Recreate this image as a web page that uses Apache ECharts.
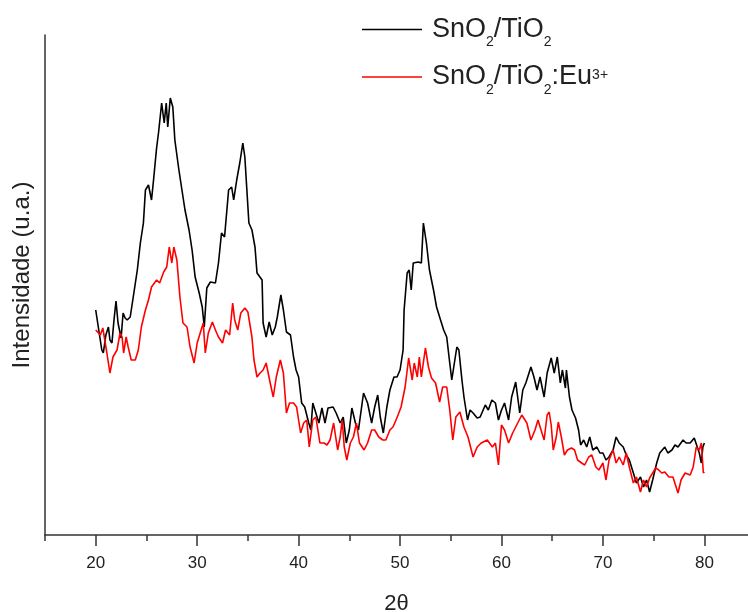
<!DOCTYPE html>
<html>
<head>
<meta charset="utf-8">
<script src="https://cdn.jsdelivr.net/npm/echarts@6/dist/echarts.min.js"></script>
<style>
html, body { margin: 0; padding: 0; background: #fff; }
#chart { width: 748px; height: 612px; }
</style>
</head>
<body>
<div id="chart"></div>
<script>
// 2theta positions (deg) and intensity (arb. units)
var blackX = [20.0,20.15,20.6,20.75,21.0,21.25,21.4,21.6,21.8,22.0,22.2,22.5,22.7,22.9,23.1,23.4,23.7,24.1,24.4,24.7,24.9,25.2,25.5,25.7,26.0,26.2,26.5,26.75,26.95,27.1,27.35,27.6,27.8,28.2,28.5,28.8,29.2,29.5,29.8,30.2,30.5,30.7,30.95,31.3,31.8,32.1,32.4,32.7,33.1,33.4,33.6,33.9,34.2,34.5,34.7,34.9,35.1,35.4,35.7,35.9,36.4,36.5,36.8,37.1,37.4,37.7,37.9,38.25,38.5,38.8,39.2,39.5,39.75,40.0,40.3,40.6,41.0,41.2,41.4,41.7,42.0,42.3,42.6,42.9,43.4,43.7,44.1,44.4,44.7,45.0,45.25,45.6,45.9,46.4,46.8,47.2,47.5,47.8,48.05,48.35,48.7,49.0,49.4,49.7,50.0,50.3,50.4,50.7,50.9,51.1,51.3,51.8,52.1,52.3,52.45,52.6,52.9,53.3,53.6,53.9,54.3,54.6,54.9,55.1,55.4,55.6,55.8,56.1,56.3,56.65,56.9,57.2,57.6,57.9,58.4,58.7,59.05,59.4,59.7,60.0,60.3,60.7,61.0,61.4,61.8,62.1,62.4,62.9,63.2,63.5,63.8,64.2,64.5,64.9,65.2,65.5,65.8,66.0,66.3,66.4,66.7,66.95,67.3,67.6,67.8,68.1,68.4,68.7,69.0,69.4,69.7,70.0,70.3,70.6,71.0,71.3,71.6,72.0,72.3,72.6,73.0,73.3,73.7,74.0,74.3,74.6,74.9,75.3,75.6,76.1,76.4,76.8,77.1,77.4,77.9,78.2,78.6,79.0,79.3,79.5,79.7,79.85,80.0];
var blackY = [225,223,185,182,200,208,195,192,215,234,212,197,222,217,215,218,238,265,292,312,345,350,335,355,387,403,432,412,432,408,437,428,395,365,345,325,305,285,258,242,228,208,247,253,252,272,302,298,345,348,335,355,372,392,378,345,312,305,288,262,255,212,198,213,200,208,218,240,225,203,200,178,165,158,132,128,112,105,132,122,112,127,112,127,128,122,112,118,92,105,127,112,105,142,132,112,128,140,118,102,128,145,158,158,165,185,225,262,265,245,272,273,272,312,313,292,265,245,228,218,205,198,172,155,175,188,185,155,138,115,125,122,117,118,130,125,135,132,115,125,132,115,138,153,122,145,152,168,158,145,158,138,162,177,162,178,152,165,147,165,138,125,117,105,90,95,88,98,85,88,82,82,75,78,85,98,92,88,80,75,62,52,58,48,55,43,55,72,82,88,82,85,90,88,95,92,92,97,88,82,72,88,92];

var redX = [20.0,20.15,20.45,20.7,21.1,21.4,21.7,22.1,22.4,22.6,22.75,23.0,23.2,23.5,23.9,24.2,24.5,24.9,25.2,25.5,26.0,26.3,26.7,27.0,27.25,27.5,27.7,28.0,28.3,28.6,29.0,29.3,29.7,30.0,30.3,30.6,30.8,31.1,31.5,31.8,32.1,32.5,32.8,33.2,33.5,33.7,34.0,34.3,34.7,35.0,35.4,35.6,35.9,36.2,36.5,36.8,37.2,37.5,37.8,38.2,38.5,38.8,39.1,39.5,39.8,40.2,40.5,40.8,41.05,41.4,41.7,42.1,42.5,42.8,43.1,43.45,43.85,44.1,44.3,44.5,44.75,45.1,45.4,45.7,46.0,46.45,46.8,47.2,47.5,47.9,48.3,48.6,49.0,49.3,49.6,49.8,50.1,50.5,50.85,51.2,51.4,51.7,51.9,52.1,52.5,52.8,53.1,53.5,53.9,54.2,54.6,54.9,55.2,55.5,55.9,56.3,56.7,57.2,57.6,58.0,58.6,59.1,59.4,59.7,60.0,60.3,60.7,61.1,61.5,62.0,62.5,62.9,63.3,63.6,64.2,64.5,64.7,64.9,65.1,65.4,65.6,65.9,66.2,66.5,66.9,67.2,67.5,67.9,68.2,68.6,68.9,69.3,69.6,70.0,70.3,70.6,71.0,71.3,71.6,72.0,72.3,72.6,73.0,73.3,73.7,74.0,74.3,74.6,75.2,75.5,75.8,76.1,76.5,76.9,77.4,77.7,78.1,78.6,78.9,79.2,79.5,79.7,79.9,80.0];
var redY = [205,205,200,207,182,162,178,185,202,198,182,198,188,175,175,185,208,225,235,248,255,252,263,268,288,272,288,275,238,212,208,188,172,192,202,212,182,202,213,205,198,192,205,200,232,215,205,222,227,223,198,175,158,162,165,172,152,138,158,175,162,122,132,132,128,102,112,115,88,115,118,92,92,90,95,112,85,98,115,88,75,92,98,112,92,85,92,105,105,98,95,95,105,108,115,120,128,148,177,155,172,158,178,158,187,168,157,152,133,148,148,125,95,118,123,108,98,78,88,92,95,88,92,70,110,105,92,102,110,120,112,95,105,115,95,120,123,110,85,98,113,98,80,85,87,85,75,72,70,78,80,68,65,72,55,75,85,72,78,70,82,68,52,58,43,55,48,57,67,65,62,63,58,58,42,55,62,60,68,88,85,92,62,63];

var majorTicks = [20, 30, 40, 50, 60, 70, 80];
var minorTicks = [15, 25, 35, 45, 55, 65, 75];
var seriesNames = ['SnO2/TiO2', 'SnO2/TiO2:Eu3+'];

function pairs(xs, ys)
{
	var out = [];
	for (var i = 0; i < xs.length; i++) {
		out.push([xs[i], ys[i]]);
	}
	return out;
}

var dom = document.getElementById('chart');
var myChart = echarts.init(dom);
var font = 'Liberation Sans';

var legendRich = {
	t: { fontSize: 27, fontFamily: font, color: '#222', lineHeight: 40, verticalAlign: 'middle' },
	s: { fontSize: 14, fontFamily: font, color: '#222', lineHeight: 14, verticalAlign: 'bottom' },
	p: { fontSize: 14, fontFamily: font, color: '#222', lineHeight: 14, verticalAlign: 'top', padding: [11, 0, 0, 0] }
};

function legendText(name)
{
	if (name === seriesNames[0]) return '{t|SnO}{s|2}{t|/TiO}{s|2}';
	return '{t|SnO}{s|2}{t|/TiO}{s|2}{t|:Eu}{p|3+}';
}

function legendAt(name, top)
{
	return {
		data: [name], left: 362, top: top, padding: 0,
		icon: 'rect', itemWidth: 60, itemHeight: 1.5,
		formatter: legendText,
		textStyle: { rich: legendRich, padding: [0, 0, 0, 5] }
	};
}

var option = {
	backgroundColor: '#fff',
	animation: false,
	grid: { left: 45, right: 0, top: 35, bottom: 77, outerBoundsMode: 'none' },
	legend: [legendAt(seriesNames[0], 16), legendAt(seriesNames[1], 57)],
	xAxis: [
		{
			type: 'value', min: 15, max: 84.3,
			name: '2\u03b8', nameLocation: 'middle', nameGap: 58,
			nameTextStyle: { fontSize: 22, fontFamily: font, color: '#222' },
			axisLine: { lineStyle: { color: '#333', width: 1.5 } },
			axisTick: { customValues: majorTicks, length: 11, lineStyle: { color: '#333', width: 1.5 } },
			axisLabel: { customValues: majorTicks, margin: 20, fontSize: 17, fontFamily: font, color: '#222' },
			splitLine: { show: false }
		},
		{
			type: 'value', min: 15, max: 84.3, position: 'bottom',
			axisLine: { show: false },
			axisTick: { customValues: minorTicks, length: 6, lineStyle: { color: '#333', width: 1.5 } },
			axisLabel: { show: false },
			splitLine: { show: false }
		}
	],
	yAxis: {
		type: 'value', min: 0, max: 500,
		name: 'Intensidade (u.a.)', nameLocation: 'middle', nameGap: 11,
		nameTextStyle: { fontSize: 24, fontFamily: font, color: '#222', padding: [0, 0, 0, 20] },
		axisLine: { show: true, lineStyle: { color: '#333', width: 1.5 } },
		axisTick: { show: false },
		axisLabel: { show: false },
		splitLine: { show: false }
	},
	series: [
		{
			name: seriesNames[0], type: 'line', data: pairs(blackX, blackY),
			symbol: 'none', lineStyle: { color: '#000', width: 1.6 }, itemStyle: { color: '#000' }
		},
		{
			name: seriesNames[1], type: 'line', data: pairs(redX, redY),
			symbol: 'none', lineStyle: { color: '#ff0000', width: 1.6 }, itemStyle: { color: '#ff0000' }
		}
	]
};

myChart.setOption(option);
</script>
</body>
</html>
